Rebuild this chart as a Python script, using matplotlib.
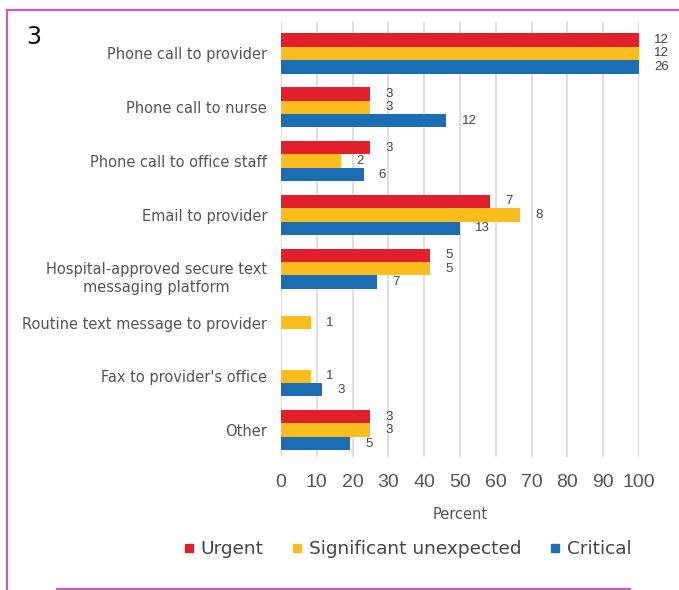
import matplotlib
matplotlib.use("Agg")
import matplotlib.pyplot as plt
from matplotlib.lines import Line2D
from matplotlib.transforms import ScaledTranslation
import numpy as np

# Communication methods (top to bottom)
categories = [
    "Phone call to provider",
    "Phone call to nurse",
    "Phone call to office staff",
    "Email to provider",
    "Hospital-approved secure text\nmessaging platform",
    "Routine text message to provider",
    "Fax to provider's office",
    "Other",
]

series_names = ["Urgent", "Significant unexpected", "Critical"]

# Number of respondents choosing each method, per result type
urgent_counts = [12, 3, 3, 7, 5, 0, 0, 3]
significant_counts = [12, 3, 2, 8, 5, 1, 1, 3]
critical_counts = [26, 12, 6, 13, 7, 0, 3, 5]

# Respondents per result type (denominator for percent)
urgent_total = 12
significant_total = 12
critical_total = 26

x_ticks = [0, 10, 20, 30, 40, 50, 60, 70, 80, 90, 100]

colors = ["#e2202b", "#fbbd1e", "#1b6db4"]
label_gray = "#555555"

fig = plt.figure(figsize=(6.79, 5.90), dpi=100)
ax = fig.add_axes([0.4138, 0.2254, 0.5273, 0.7373])

y = np.arange(len(categories))
bar_h = 0.25
offsets = [-bar_h, 0.0, bar_h]
all_counts = [urgent_counts, significant_counts, critical_counts]
all_totals = [urgent_total, significant_total, critical_total]

for counts, total, off, col, name in zip(all_counts, all_totals, offsets, colors, series_names):
    pct = [100.0 * c / total for c in counts]
    ax.barh(y + off, pct, height=bar_h, color=col, label=name, zorder=3)
    for yi, c, p in zip(y, counts, pct):
        if c == 0:
            continue
        ax.annotate(str(c), xy=(p, yi + off), xytext=(11, 0),
                    textcoords="offset points", ha="left", va="center",
                    fontsize=9.5, color="#444444", family="Liberation Sans",
                    annotation_clip=False, zorder=4)

ax.set_xlim(0, 100)
ax.set_ylim(7.5, -0.585)
ax.set_xticks(x_ticks)
ax.set_xticklabels([str(t) for t in x_ticks], fontsize=14, color=label_gray,
                   family="Liberation Sans")
ax.set_yticks(y)
ax.set_yticklabels(categories, fontsize=10.5, color=label_gray,
                   multialignment="center")
ax.tick_params(axis="x", length=0, pad=12)
ax.tick_params(axis="y", length=0, pad=10)

# The two-line label sits slightly below its group
two_line = ax.get_yticklabels()[4]
two_line.set_transform(two_line.get_transform()
                       + ScaledTranslation(0, -7 / 100, fig.dpi_scale_trans))

for s in ax.spines.values():
    s.set_visible(False)
ax.grid(axis="x", color="#d9d9d9", linewidth=1.2, zorder=0)
ax.set_axisbelow(True)
ax.set_xlabel("Percent", fontsize=10.5, color=label_gray, labelpad=12)

# Legend with small square keys
handles = [Line2D([], [], marker="s", linestyle="none", markersize=5.5,
                  markerfacecolor=c, markeredgecolor=c) for c in colors]
fig.legend(handles, series_names, loc="center", bbox_to_anchor=(0.6, 0.069),
           ncol=3, frameon=False, fontsize=13.3, handlelength=0.6,
           handletextpad=0.35, columnspacing=1.5, labelcolor="#444444")

# Panel number
fig.text(0.050, 0.938, "3", fontsize=17, color="#111111", ha="center", va="center")

# Magenta frame lines
frame_col = "#c45ec6"
fig.add_artist(Line2D([6.5 / 679, 1.0], [1 - 10 / 590, 1 - 10 / 590],
                      transform=fig.transFigure, color=frame_col, linewidth=1.6))
fig.add_artist(Line2D([6.5 / 679, 6.5 / 679], [1 - 10 / 590, 0.0],
                      transform=fig.transFigure, color=frame_col, linewidth=1.6))
fig.add_artist(Line2D([57 / 679, 630 / 679], [1 - 588.5 / 590, 1 - 588.5 / 590],
                      transform=fig.transFigure, color=frame_col, linewidth=1.6))

fig.savefig("out.png", dpi=100, facecolor="white")
